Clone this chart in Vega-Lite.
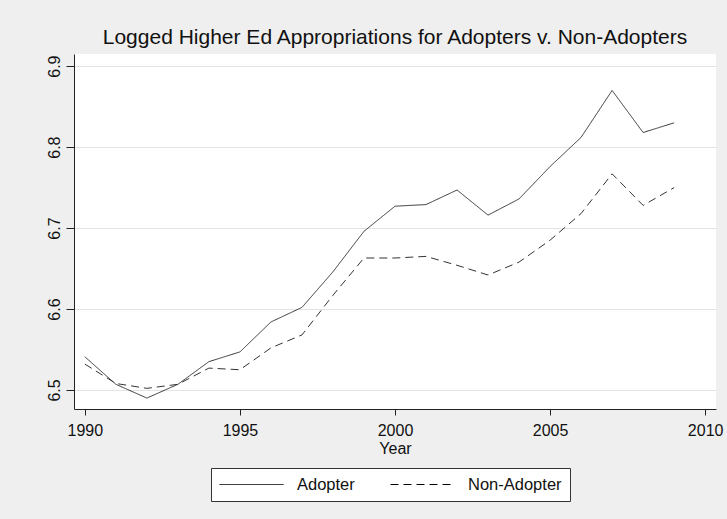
{
  "$schema": "https://vega.github.io/schema/vega-lite/v6.json",
  "width": 642,
  "height": 355,
  "autosize": "none",
  "padding": {"left": 74, "top": 54, "right": 11, "bottom": 110},
  "background": "#efefef",
  "config": {
    "font": "Liberation Sans",
    "view": {"fill": "white", "stroke": null}
  },
  "title": {
    "text": "Logged Higher Ed Appropriations for Adopters v. Non-Adopters",
    "font": "Liberation Sans",
    "fontSize": 21,
    "fontWeight": "normal",
    "color": "#111111",
    "anchor": "middle",
    "offset": 6
  },
  "data": {
    "values": [
      {"year": 1990, "group": "Adopter", "value": 6.541},
      {"year": 1991, "group": "Adopter", "value": 6.507},
      {"year": 1992, "group": "Adopter", "value": 6.490},
      {"year": 1993, "group": "Adopter", "value": 6.507},
      {"year": 1994, "group": "Adopter", "value": 6.535},
      {"year": 1995, "group": "Adopter", "value": 6.547},
      {"year": 1996, "group": "Adopter", "value": 6.584},
      {"year": 1997, "group": "Adopter", "value": 6.602},
      {"year": 1998, "group": "Adopter", "value": 6.646},
      {"year": 1999, "group": "Adopter", "value": 6.696},
      {"year": 2000, "group": "Adopter", "value": 6.727},
      {"year": 2001, "group": "Adopter", "value": 6.729},
      {"year": 2002, "group": "Adopter", "value": 6.747},
      {"year": 2003, "group": "Adopter", "value": 6.716},
      {"year": 2004, "group": "Adopter", "value": 6.736},
      {"year": 2005, "group": "Adopter", "value": 6.776},
      {"year": 2006, "group": "Adopter", "value": 6.812},
      {"year": 2007, "group": "Adopter", "value": 6.870},
      {"year": 2008, "group": "Adopter", "value": 6.818},
      {"year": 2009, "group": "Adopter", "value": 6.830},
      {"year": 1990, "group": "Non-Adopter", "value": 6.532},
      {"year": 1991, "group": "Non-Adopter", "value": 6.508},
      {"year": 1992, "group": "Non-Adopter", "value": 6.502},
      {"year": 1993, "group": "Non-Adopter", "value": 6.507},
      {"year": 1994, "group": "Non-Adopter", "value": 6.527},
      {"year": 1995, "group": "Non-Adopter", "value": 6.525},
      {"year": 1996, "group": "Non-Adopter", "value": 6.552},
      {"year": 1997, "group": "Non-Adopter", "value": 6.568},
      {"year": 1998, "group": "Non-Adopter", "value": 6.617},
      {"year": 1999, "group": "Non-Adopter", "value": 6.663},
      {"year": 2000, "group": "Non-Adopter", "value": 6.663},
      {"year": 2001, "group": "Non-Adopter", "value": 6.665},
      {"year": 2002, "group": "Non-Adopter", "value": 6.654},
      {"year": 2003, "group": "Non-Adopter", "value": 6.642},
      {"year": 2004, "group": "Non-Adopter", "value": 6.658},
      {"year": 2005, "group": "Non-Adopter", "value": 6.685},
      {"year": 2006, "group": "Non-Adopter", "value": 6.718},
      {"year": 2007, "group": "Non-Adopter", "value": 6.767},
      {"year": 2008, "group": "Non-Adopter", "value": 6.728},
      {"year": 2009, "group": "Non-Adopter", "value": 6.750}
    ]
  },
  "mark": {"type": "line", "color": "#333333", "strokeWidth": 1, "clip": true},
  "encoding": {
    "x": {
      "field": "year",
      "type": "quantitative",
      "scale": {"domain": [1989.65, 2010.35], "nice": false, "zero": false},
      "axis": {
        "title": "Year",
        "values": [1990, 1995, 2000, 2005, 2010],
        "format": "d",
        "grid": false,
        "domainColor": "#222222",
        "tickColor": "#222222",
        "tickSize": 6,
        "labelFont": "Liberation Sans",
        "labelFontSize": 16,
        "labelColor": "#111111",
        "labelPadding": 7,
        "labelFlush": false,
        "titleFont": "Liberation Sans",
        "titleFontSize": 16,
        "titleFontWeight": "normal",
        "titleColor": "#111111",
        "titlePadding": 2
      }
    },
    "y": {
      "field": "value",
      "type": "quantitative",
      "scale": {"domain": [6.4765, 6.915], "nice": false, "zero": false},
      "axis": {
        "title": null,
        "values": [6.5, 6.6, 6.7, 6.8, 6.9],
        "format": ".1f",
        "grid": true,
        "gridColor": "#e4e4e4",
        "gridWidth": 1,
        "domainColor": "#222222",
        "tickColor": "#222222",
        "tickSize": 8,
        "labelFont": "Liberation Sans",
        "labelFontSize": 16,
        "labelColor": "#111111",
        "labelAngle": 270,
        "labelAlign": "center",
        "labelBaseline": "bottom",
        "labelPadding": 4
      }
    },
    "strokeDash": {
      "field": "group",
      "type": "nominal",
      "scale": {"domain": ["Adopter", "Non-Adopter"], "range": [[1, 0], [8, 5]]},
      "legend": {
        "title": null,
        "orient": "none",
        "direction": "horizontal",
        "legendX": 137,
        "legendY": 414,
        "padding": 8,
        "fillColor": "white",
        "strokeColor": "#333333",
        "symbolType": "M-1,0H7",
        "symbolSize": 256,
        "symbolStrokeColor": "black",
        "symbolStrokeWidth": 1,
        "labelFont": "Liberation Sans",
        "labelFontSize": 16.5,
        "labelColor": "#111111",
        "labelOffset": 61,
        "columnPadding": 33
      }
    }
  }
}
